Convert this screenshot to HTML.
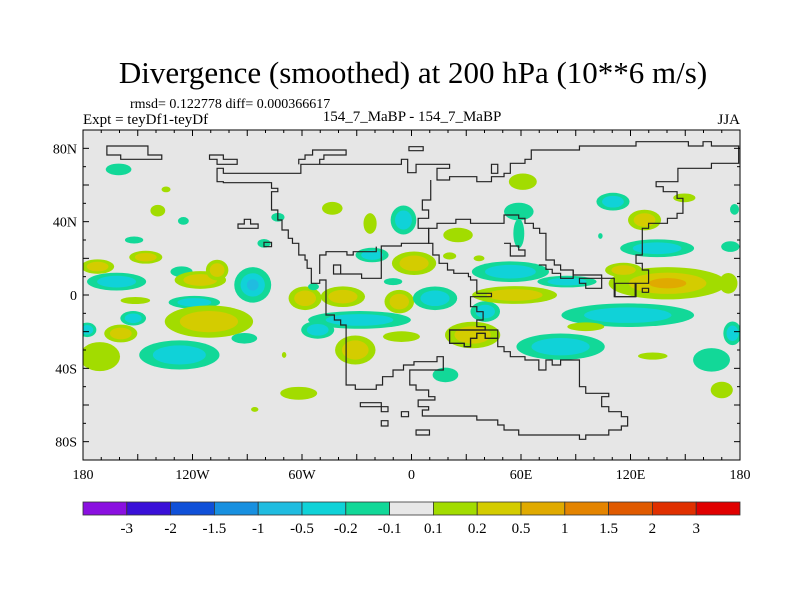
<!DOCTYPE html>
<html><head><meta charset="utf-8">
<style>
body{margin:0;background:#fff;}
svg{display:block;font-family:"Liberation Serif",serif;}
</style></head>
<body>
<svg id="chart" width="800" height="600" viewBox="0 0 800 600" xmlns="http://www.w3.org/2000/svg">
<rect x="0" y="0" width="800" height="600" fill="#fff"/>
<text x="413" y="83" font-size="31" text-anchor="middle">Divergence (smoothed) at 200 hPa (10**6 m/s)</text>
<text x="130" y="108" font-size="14">rmsd= 0.122778 diff= 0.000366617</text>
<text x="83" y="124" font-size="15">Expt = teyDf1-teyDf</text>
<text x="412" y="121" font-size="15" text-anchor="middle">154_7_MaBP - 154_7_MaBP</text>
<text x="740" y="124" font-size="15" text-anchor="end">JJA</text>
<clipPath id="pc"><rect x="83" y="130" width="657" height="330"/></clipPath>
<rect x="83" y="130" width="657" height="330" fill="#e6e6e6"/>
<g id="blobs" clip-path="url(#pc)"></g>
<g clip-path="url(#pc)">
<g transform="translate(83,130) scale(0.41895,0.33333)" fill="none" stroke="#222" stroke-width="1.2">
<path vector-effect="non-scaling-stroke" d="M57,48 H155 V75 H188 V88 H90 V75 H57 Z"/>
<path vector-effect="non-scaling-stroke" d="M302,75 H335 V88 H368 V103 H320 V88 H302 Z"/>
<path vector-effect="non-scaling-stroke" d="M778,50 H812 V62 H778 Z"/>
<path vector-effect="non-scaling-stroke" d="M975,103 H990 V130 H975 Z"/>
<path vector-effect="non-scaling-stroke" d="M515,103 V88 H530 V75 H548 V60 H628 V75 H575 V88 H565 V103"/>
<path vector-effect="non-scaling-stroke" d="M320,115 V155 H335 V158 H450 V175 H465 V185 H450 V240 H465 V270 H475 V300 H490 V325 H500 V340 H515 V375 H530 V390 H535 V415 H545 V460 H565 V450 H580 V555 H600 V570 H615 V585 H628 V765 H650 V778 H700 V765 H715 V740 H740 V720 H765 V705 H790 V695 H845 V680 H860 V720 H780 V765 H795 V780 H825 V800 H840 V810 H800 V830 H825 V840 H810 V858 H940 V870 H990 V885 H1005 V900 H1040 V915 H1185 V928 H1200 V915 H1255 V900 H1285 V888 H1300 V860 H1285 V845 H1255 V830 H1238 V800 H1255 V790 H1200 V770 H1185 V690 H1140 V705 H1120 V690 H1105 V720 H1088 V690 H1055 V680 H1020 V665 H1005 V650 H990 V625 H960 V610 H940 V625 H925 V650 H910 V640 H875 V600 H960 V590 H940 V570 H955 V545 H940 V530 H925 V515 V500 H975 V490 H940 V475 V450 H925 V440 H920 V430 H885 V420 H870 V400 H850 V375 H835 V340 H825 V295 H845 V280 H890 V268 H925 V280 H1005 V255 H1040 V265 H1055 V280 H1075 V295 H1090 V310 H1105 V390 H1125 V405 H1140 V420 H1170 V435 H1238 V445 H1268 V500 H1320 V460 H1350 V420 H1335 V400 H1320 V375 H1335 V295 H1350 V280 H1395 V265 H1418 V250 H1432 V205 H1418 V185 H1385 V170 H1368 V155 H1420 V115 H1500 V100 H1565 V48 H1500 V35 H1480 V48 H1445 V35 H1320 V48 H1185 V60 H1070 V88 H1055 V100 H1020 V130 H1005 V140 H975 V155 H940 V140 H875 V150 H845 V115 H875 V103 H795 V128 H775 V88 H760 V103 H520 V130 H335 V115 Z"/>
<path vector-effect="non-scaling-stroke" d="M830,150 V210 H810 V240 H825 V265 H800 V295 H825 V340 H760 V348 H712 V445 H665 V432 H598 V405 H615 V432 M565,432 V375 H580 V365 H630 V375 H645 V365 H700 V350"/>
<path vector-effect="non-scaling-stroke" d="M370,295 V282 H385 V268 H400 V282 H418 V295 Z"/>
<path vector-effect="non-scaling-stroke" d="M432,337 H450 V350 H432 Z"/>
<path vector-effect="non-scaling-stroke" d="M1005,340 H1020 V378 H1055 V360 H1040 V348 H1020"/>
<path vector-effect="non-scaling-stroke" d="M1088,405 H1105 V418 H1120 V430 H1140 V445 H1170 V420"/>
<path vector-effect="non-scaling-stroke" d="M1185,445 H1238 V475 H1200 V460 H1185 Z"/>
<path vector-effect="non-scaling-stroke" d="M1270,460 H1318 V500 H1270 Z"/>
<path vector-effect="non-scaling-stroke" d="M1335,475 H1350 V487 H1335 Z"/>
<path vector-effect="non-scaling-stroke" d="M875,600 V640 H910 V650 H925 V625 H940 V610 H960 V625 H990 V600 Z"/>
<path vector-effect="non-scaling-stroke" d="M662,818 H712 V830 H728 V845 H712 V830 H662 Z"/>
<path vector-effect="non-scaling-stroke" d="M760,845 H777 V860 H760 Z"/>
<path vector-effect="non-scaling-stroke" d="M712,872 H728 V888 H712 Z"/>
<path vector-effect="non-scaling-stroke" d="M795,900 H827 V915 H795 Z"/>
</g>
</g>
<g id="axes"></g>
<g id="colorbar"></g>
</svg>
<script>
// ---- data ----
const blobLon  = [-160.5,-134.5,-139,-125,-152,-145.6,-172,-161.6,-126,-115.7,-106.5,-87,-151.3,-119,-152.5,-111,-177.7,-159.3,-170.8,-127.2,-91.6,-61.8,-85.9,-69.8,-58.3,-37.6,-43.4,-73.2,-80.8,-53.7,-22.7,-4.4,-21.6,1.4,25.5,20.9,37,-10.1,-6.7,12.9,40.4,-28.5,-51.4,-30.8,-5.5,33.5,18.6,61,58.8,54.2,58.8,56.5,85.2,118.5,81.7,95.5,132.2,164.4,170,175.9,140.3,116.2,134.6,110.4,127.7,149.5,174.7,177,173.6,103.5];
const blobLat  = [68.5,57.6,46,40.4,30,20.6,15.5,7.3,12.7,8.2,13.6,5.5,-3,-4,-12.7,-14.5,-19,-21,-33.6,-32.7,-23.6,-53.6,-62.4,-32.7,-1.8,-0.9,47.3,42.4,28.2,4.5,39,40.9,21.8,17.3,32.7,21.3,20,7.3,-3.6,-1.8,-9,-13.6,-19,-30,-22.7,-21.8,-43.6,61.8,45.5,12.7,33.6,0,7.3,-11,-28.2,-17.3,-33.3,-35.4,-51.8,-20.9,6.4,13.6,25.5,50.9,40.9,53,26.4,46.7,6.4,32.2];
const blobRLon = [8,2.8,4.6,3.4,5.7,10.3,10.3,18.4,6.9,16,7,11.5,9.2,16,8,27.5,5.7,10.3,12.6,25,8,11.5,2.3,1.4,10.3,13.8,6.4,4.1,4.1,3.4,4.1,8,10.3,13.8,9.2,4.1,3.4,5.7,9.2,13.8,9.2,32,10.3,12.6,11.5,17.2,8,8.7,9.2,24,3.4,26.4,18.4,41.3,27.5,11.5,9.2,11.5,6.9,5.7,36.7,11.5,23,10.3,10.3,6.9,5.7,2.8,5.7,1.4];
const blobRLat = [3.6,1.8,3.6,2.4,2.2,4,4.5,5.5,3.3,5.5,6.4,11,2.2,4,4.5,10,4.5,5.5,9,9,3.3,4,1.5,1.8,7.3,6.4,4,2.7,2.7,2.2,6.4,9,4.5,7.3,4.5,2.2,1.8,2.2,7.3,7.3,6.4,5.5,5.5,9,3.3,8.2,4.5,5.1,5.5,6.4,9,5.5,3.6,7.3,8.2,2.7,2.2,7.3,5.1,7.3,10,4.5,5.5,5.5,6.4,2.7,3.3,3.3,6.4,1.8];
const blobPeak = [-0.15,0.15,0.15,-0.15,-0.15,0.3,0.3,-0.3,-0.15,0.3,0.3,-0.6,0.15,-0.3,-0.3,0.4,-0.3,0.3,0.2,-0.4,-0.15,0.15,0.15,0.15,0.3,0.3,0.15,-0.15,-0.15,-0.15,0.15,-0.3,-0.3,0.4,0.15,0.15,0.15,-0.15,0.35,-0.4,-0.4,-0.4,-0.4,0.3,0.2,0.35,-0.15,0.15,-0.15,-0.4,-0.15,0.35,-0.3,-0.4,-0.3,0.15,0.15,-0.15,0.15,-0.3,0.8,0.3,-0.3,-0.4,0.3,0.15,-0.15,-0.15,0.2,-0.15];
const cbLevels = ["-3","-2","-1.5","-1","-0.5","-0.2","-0.1","0.1","0.2","0.5","1","1.5","2","3"];
const cbColors = ["#8a10e0","#3a10d8","#1050d8","#1890e0","#20bce0","#10d2d8","#12d898","#e8e8e8","#a2dc00","#d4cc00","#e0aa00","#e48400","#e05a00","#e03000","#e00000"];
const latTicks = [80,40,0,-40,-80];
const latLabels = ["80N","40N","0","40S","80S"];
const lonTicks = [-180,-120,-60,0,60,120,180];
const lonLabels = ["180","120W","60W","0","60E","120E","180"];
// ---- axis functions ----
const X0=83,X1=740,Y0=130,Y1=460;
const xOf = lon => X0 + (lon+180)/360*(X1-X0);
const yOf = lat => Y0 + (90-lat)/180*(Y1-Y0);
const sx = d => d/360*(X1-X0);
const sy = d => d/180*(Y1-Y0);
const NS="http://www.w3.org/2000/svg";
function mk(tag, attrs, parent){const e=document.createElementNS(NS,tag);for(const k in attrs)e.setAttribute(k,attrs[k]);parent.appendChild(e);return e;}
function levelColor(v){
  const th=[-3,-2,-1.5,-1,-0.5,-0.2,-0.1,0.1,0.2,0.5,1,1.5,2,3];
  let i=0; while(i<th.length && v>th[i]) i++; return cbColors[i];
}
const bg=document.getElementById('blobs');
for(let i=0;i<blobLon.length;i++){
  const p=blobPeak[i], a=Math.abs(p);
  const steps=[[0.1,0.88],[0.2,0.58],[0.5,0.28]];
  const g=mk('g',{},bg);
  
  
  for(const [t,f] of steps){
    if(a<=t) break;
    const val = p>0 ? (t+0.001) : -(t+0.001);
    mk('ellipse',{cx:xOf(blobLon[i]),cy:yOf(blobLat[i]),rx:sx(blobRLon[i])*f,ry:sy(blobRLat[i])*f,fill:levelColor(val)},g);
  }
}
// axes
const ax=document.getElementById('axes');
const fr=mk('rect',{x:X0,y:Y0,width:X1-X0,height:Y1-Y0,fill:'none',stroke:'#000','stroke-width':1},ax);


for(let lat=-90;lat<=90;lat+=10){
  const y=yOf(lat), L=(lat%20===0)?6:3;
  mk('line',{x1:X0,y1:y,x2:X0+L,y2:y,stroke:'#000'},ax);
  mk('line',{x1:X1,y1:y,x2:X1-L,y2:y,stroke:'#000'},ax);
}
for(let lon=-180;lon<=180;lon+=10){
  const x=xOf(lon), L=(lon%30===0)?6:3;
  mk('line',{x1:x,y1:Y0,x2:x,y2:Y0+L,stroke:'#000'},ax);
  mk('line',{x1:x,y1:Y1,x2:x,y2:Y1-L,stroke:'#000'},ax);
}
latTicks.forEach((v,i)=>{
  const t=mk('text',{x:X0-6,y:yOf(v)+5,'font-size':14,'text-anchor':'end'},ax);
  
  
  t.textContent=latLabels[i];
});
lonTicks.forEach((v,i)=>{
  const t=mk('text',{x:xOf(v),y:Y1+19,'font-size':14,'text-anchor':'middle'},ax);
  
  
  t.textContent=lonLabels[i];
});
// colorbar
const cb=document.getElementById('colorbar');
const CBX=83,CBW=657,CBY=502,CBH=13,bw=CBW/cbColors.length;
cbColors.forEach((c,i)=>{
  const r=mk('rect',{x:CBX+i*bw,y:CBY,width:bw,height:CBH,fill:c,stroke:'#333','stroke-width':0.8},cb);
  
  
});
cbLevels.forEach((s,i)=>{
  const t=mk('text',{x:CBX+(i+1)*bw,y:CBY+CBH+18,'font-size':15,'text-anchor':'middle'},cb);
  
  
  t.textContent=s;
});
</script>
</body></html>
